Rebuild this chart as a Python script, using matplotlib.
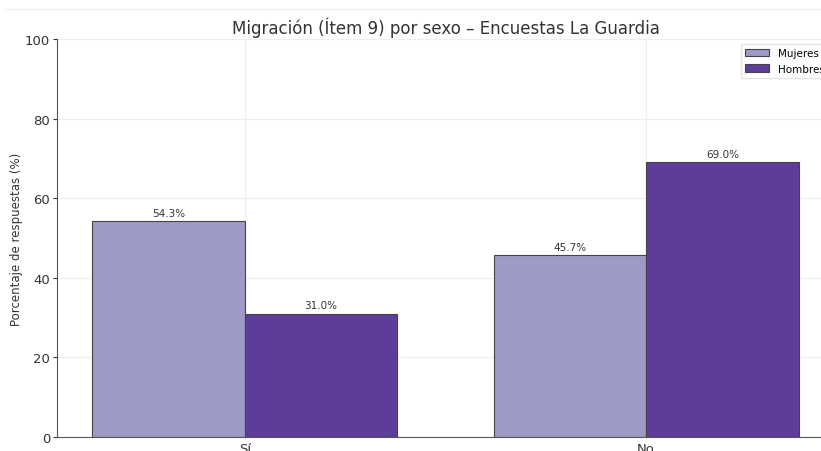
import numpy as np
import matplotlib.pyplot as plt
from matplotlib.lines import Line2D

# -------- DATA --------
categorias = ["Sí", "No"]
mujeres = [54.3, 45.7]
hombres = [31.0, 69.0]

color_mujeres = "#9e9ac8"
color_hombres = "#5e3c99"

x = np.arange(len(categorias))
width = 0.38

fig = plt.figure(figsize=(8.21, 4.52), dpi=100)
ax = fig.add_axes([0.0694, 0.031, 0.9464, 0.8805])

b1 = ax.bar(x - width / 2, mujeres, width, label="Mujeres",
            color=color_mujeres, edgecolor="#444444", linewidth=0.8)
b2 = ax.bar(x + width / 2, hombres, width, label="Hombres",
            color=color_hombres, edgecolor="#444444", linewidth=0.8)

for bars in (b1, b2):
    for bar in bars:
        h = bar.get_height()
        ax.text(bar.get_x() + bar.get_width() / 2, h + 0.8, f"{h:.1f}%",
                ha="center", va="bottom", fontsize=7.5, color="#333333")

ax.set_ylim(0, 100)
ax.set_xticks(x)
ax.set_xticklabels(categorias, fontsize=9.5, color="#333333")
ax.tick_params(axis="y", labelsize=9.5, colors="#333333", length=3, pad=2)
ax.tick_params(axis="x", length=0)
ax.set_ylabel("Porcentaje de respuestas (%)", fontsize=8.5, color="#333333",
              labelpad=1)
ax.set_title("Migración (Ítem 9) por sexo – Encuestas La Guardia",
             fontsize=12, color="#333333", pad=4)

ax.grid(True, color="#eeeeee", linewidth=0.8)
ax.set_axisbelow(True)
for s in ("top", "right"):
    ax.spines[s].set_visible(False)
for s in ("left", "bottom"):
    ax.spines[s].set_color("#555555")

ax.legend(loc="upper right", fontsize=7.5, frameon=True, edgecolor="#dddddd",
          fancybox=False, handlelength=2.3)

# thin rule across the top of the figure
fig.add_artist(Line2D([0.006, 1.0], [0.978, 0.978], color="#eeeeee",
                      linewidth=1.0, transform=fig.transFigure))

fig.savefig("out.png", dpi=100)
